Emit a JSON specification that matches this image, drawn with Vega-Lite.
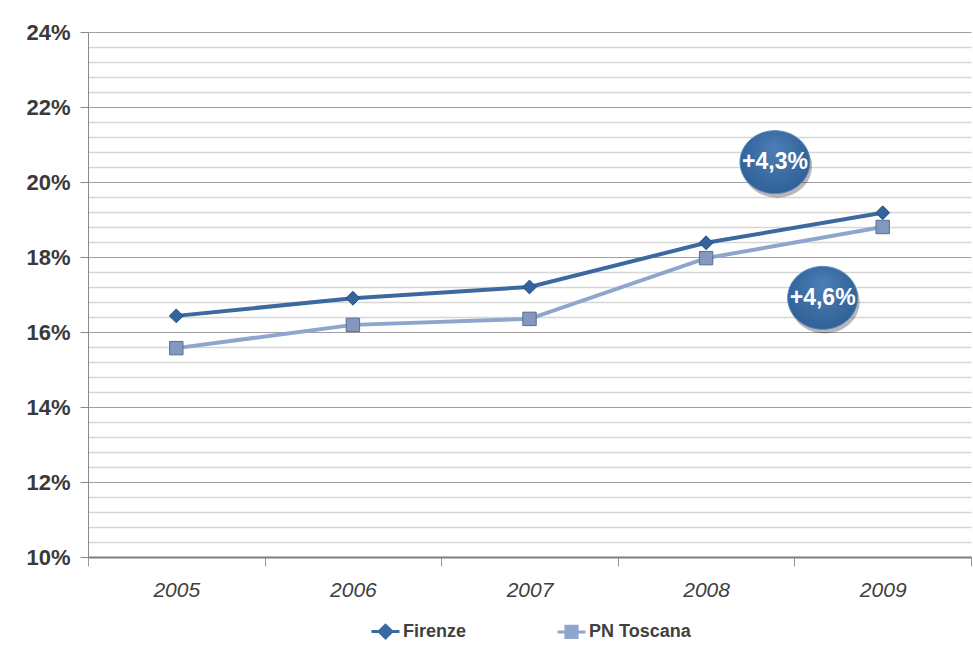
{
  "$schema": "https://vega.github.io/schema/vega-lite/v6.json",
  "width": 883,
  "height": 525,
  "autosize": {"type": "none"},
  "padding": {"left": 88, "top": 32, "right": 2, "bottom": 89},
  "background": "#ffffff",
  "config": {
    "view": {"stroke": null},
    "font": "Liberation Sans"
  },
  "datasets": {
    "series": [
      {"year": 2005, "series": "Firenze", "value": 16.43},
      {"year": 2006, "series": "Firenze", "value": 16.9},
      {"year": 2007, "series": "Firenze", "value": 17.2},
      {"year": 2008, "series": "Firenze", "value": 18.38},
      {"year": 2009, "series": "Firenze", "value": 19.18},
      {"year": 2005, "series": "PN Toscana", "value": 15.57},
      {"year": 2006, "series": "PN Toscana", "value": 16.19},
      {"year": 2007, "series": "PN Toscana", "value": 16.35},
      {"year": 2008, "series": "PN Toscana", "value": 17.97},
      {"year": 2009, "series": "PN Toscana", "value": 18.8}
    ],
    "bubbles": [
      {"pos": 2008.39, "level": 20.53, "label": "+4,3%"},
      {"pos": 2008.66, "level": 16.91, "label": "+4,6%"}
    ]
  },
  "encoding": {
    "x": {
      "field": "year",
      "type": "quantitative",
      "scale": {"domain": [2004.5, 2009.5], "nice": false, "zero": false},
      "axis": {
        "title": null,
        "values": [2004.5, 2005.5, 2006.5, 2007.5, 2008.5, 2009.5],
        "labelExpr": "datum.value < 2009 ? '' + (datum.value + 0.5) : ''",
        "labelOffset": 88.3,
        "labelFlush": false,
        "labelOverlap": false,
        "labelAlign": "center",
        "labelFont": "Liberation Sans",
        "labelFontSize": 21,
        "labelFontStyle": "italic",
        "labelColor": "#404040",
        "labelPadding": 13,
        "grid": false,
        "domainColor": "#7f7f7f",
        "domainWidth": 2,
        "tickColor": "#9a9a9a",
        "tickSize": 9
      }
    },
    "y": {
      "field": "value",
      "type": "quantitative",
      "scale": {"domain": [10, 24], "nice": false, "zero": false},
      "axis": {
        "title": null,
        "values": [10, 10.4, 10.8, 11.2, 11.6, 12, 12.4, 12.8, 13.2, 13.6, 14, 14.4, 14.8, 15.2, 15.6, 16, 16.4, 16.8, 17.2, 17.6, 18, 18.4, 18.8, 19.2, 19.6, 20, 20.4, 20.8, 21.2, 21.6, 22, 22.4, 22.8, 23.2, 23.6, 24],
        "labelExpr": "datum.value % 2 === 0 ? datum.value + '%' : ''",
        "labelFont": "Liberation Sans",
        "labelFontSize": 22,
        "labelFontWeight": "bold",
        "labelColor": "#3a3a3a",
        "labelPadding": 10,
        "labelOverlap": false,
        "labelFlush": false,
        "grid": true,
        "gridColor": {"condition": {"test": "datum.value % 2 === 0", "value": "#a0a0a0"}, "value": "#d6d6d6"},
        "gridWidth": {"condition": {"test": "datum.value % 2 === 0", "value": 1}, "value": 1.5},
        "tickOpacity": {"condition": {"test": "datum.value % 2 === 0", "value": 1}, "value": 0},
        "tickColor": "#8a8a8a",
        "tickSize": 8,
        "domainColor": "#8a8a8a"
      }
    }
  },
  "layer": [
    {
      "data": {"name": "series"},
      "mark": {"type": "line", "strokeWidth": 4},
      "encoding": {
        "color": {
          "field": "series",
          "type": "nominal",
          "scale": {"domain": ["Firenze", "PN Toscana"], "range": ["#3b69a0", "#8ea6cc"]},
          "legend": {
            "title": null,
            "orient": "none",
            "direction": "horizontal",
            "legendX": 282,
            "legendY": 584,
            "labelFont": "Liberation Sans",
            "labelFontSize": 18,
            "labelFontWeight": "bold",
            "labelColor": "#404040",
            "labelOffset": 2,
            "symbolSize": 784,
            "symbolStrokeWidth": 3,
            "columnPadding": 84,
            "encode": {
              "symbols": {
                "update": {
                  "shape": {"signal": "datum.value === 'Firenze' ? 'M-1,0H1M0,-0.45L0.45,0L0,0.45L-0.45,0Z' : 'M-1,0H1M-0.4,-0.4H0.4V0.4H-0.4Z'"},
                  "fill": {"scale": "color", "field": "value"},
                  "stroke": {"scale": "color", "field": "value"},
                  "strokeWidth": {"value": 3}
                }
              }
            }
          }
        }
      }
    },
    {
      "data": {"name": "series"},
      "transform": [{"filter": "datum.series === 'Firenze'"}],
      "mark": {"type": "point", "shape": "diamond", "filled": true, "size": 190, "opacity": 1, "fill": "#3464a0", "stroke": "#244c7c", "strokeWidth": 1}
    },
    {
      "data": {"name": "series"},
      "transform": [{"filter": "datum.series === 'PN Toscana'"}],
      "mark": {"type": "point", "shape": "square", "filled": true, "size": 180, "opacity": 1, "fill": "#8497bd", "stroke": "#5a6d92", "strokeWidth": 1}
    },
    {
      "data": {"name": "bubbles"},
      "mark": {
        "type": "point",
        "filled": true,
        "shape": "M-1,0A1,0.9 0 1,0 1,0A1,0.9 0 1,0 -1,0Z",
        "size": 4900,
        "color": "#000000",
        "opacity": 0.28,
        "xOffset": 2,
        "yOffset": 4
      },
      "encoding": {
        "x": {"field": "pos", "type": "quantitative"},
        "y": {"field": "level", "type": "quantitative"}
      }
    },
    {
      "data": {"name": "bubbles"},
      "mark": {
        "type": "point",
        "filled": true,
        "shape": "M-1,0A1,0.9 0 1,0 1,0A1,0.9 0 1,0 -1,0Z",
        "size": 4900,
        "opacity": 1,
        "fill": {
          "gradient": "radial",
          "x1": 0.5, "y1": 0.3, "r1": 0,
          "x2": 0.5, "y2": 0.45, "r2": 0.65,
          "stops": [
            {"offset": 0, "color": "#4c7fb8"},
            {"offset": 1, "color": "#2a5b90"}
          ]
        },
        "stroke": "#5a88bd",
        "strokeWidth": 1
      },
      "encoding": {
        "x": {"field": "pos", "type": "quantitative"},
        "y": {"field": "level", "type": "quantitative"}
      }
    },
    {
      "data": {"name": "bubbles"},
      "mark": {
        "type": "text",
        "font": "Liberation Sans",
        "fontSize": 23,
        "fontWeight": "bold",
        "color": "#ffffff",
        "align": "center",
        "baseline": "middle"
      },
      "encoding": {
        "x": {"field": "pos", "type": "quantitative"},
        "y": {"field": "level", "type": "quantitative"},
        "text": {"field": "label", "type": "nominal"}
      }
    }
  ]
}
